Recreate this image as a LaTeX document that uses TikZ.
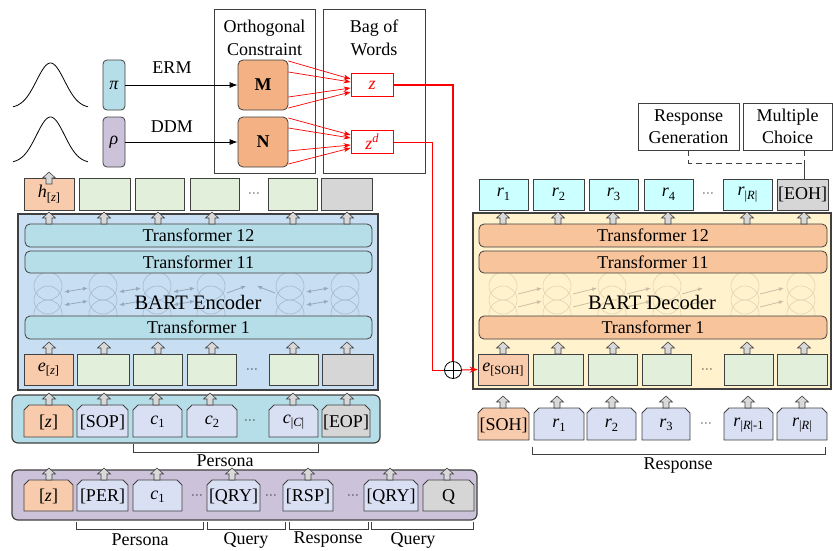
\documentclass[tikz,border=0pt]{standalone}
\usepackage{fontspec}
\setmainfont{Liberation Serif}
\usetikzlibrary{arrows.meta}
\definecolor{dgray}{RGB}{64,64,64}
\definecolor{encbg}{RGB}{200,222,242}
\definecolor{trblue}{RGB}{182,222,232}
\definecolor{tokgreen}{RGB}{226,239,218}
\definecolor{tokorange}{RGB}{248,203,173}
\definecolor{tokgray}{RGB}{214,214,214}
\definecolor{toklav}{RGB}{218,224,243}
\definecolor{purp}{RGB}{204,194,218}
\definecolor{decbg}{RGB}{255,242,204}
\definecolor{trorange}{RGB}{248,196,156}
\definecolor{rcyan}{RGB}{204,255,255}
\definecolor{morange}{RGB}{244,177,131}
\definecolor{agray}{RGB}{217,217,217}
\definecolor{enccirc}{RGB}{165,185,205}
\definecolor{encarrc}{RGB}{150,168,186}
\definecolor{deccirc}{RGB}{225,212,180}
\definecolor{decarrc}{RGB}{200,192,165}
\definecolor{linered}{RGB}{255,0,0}
\newcommand{\tsb}[1]{\raisebox{-3.5pt}{\fontsize{12.5}{12.5}\selectfont #1}}
\newcommand{\tsp}[1]{\raisebox{7pt}{\fontsize{12.5}{12.5}\selectfont #1}}
\newcommand{\sdots}{{\fontsize{13}{13}\selectfont\,$\cdot\!\cdot\!\cdot$\,}}
% box token: name, x1, y1, x2, y2, fill, text
\newcommand{\btok}[7]{\node[draw=dgray, fill=#6, line width=0.8pt, inner sep=0pt,
  minimum width={#4-#2}, minimum height={#5-#3}] (#1) at ({(#2+#4)/2},{(#3+#5)/2}) {#7};}
% chamfered token: name, x1, y1, x2, y2, fill, text
\newcommand{\chtok}[7]{\filldraw[fill=#6, draw=dgray, line width=0.8pt]
  (#2,#5) -- (#2,#3+5) -- (#2+5,#3) -- (#4-5,#3) -- (#4,#3+5) -- (#4,#5) -- cycle;
  \node[inner sep=0pt] (#1) at ({(#2+#4)/2},{(#3+#5)/2+1}) {#7};}
\tikzset{
  uparr/.pic={\filldraw[fill=agray, draw=dgray, line width=0.6pt]
    (-3,0) -- (-3,-6) -- (-6.5,-6) -- (0,-12) -- (6.5,-6) -- (3,-6) -- (3,0) -- cycle;},
  trbar/.style={draw=dgray, line width=0.8pt, rounded corners=5pt, inner sep=0pt, minimum width=347pt},
  panel/.style={draw=dgray, line width=1.2pt, rounded corners=6pt, inner sep=0pt},
  bigbox/.style={draw=dgray, line width=1.6pt, inner sep=0pt},
  plainbox/.style={draw=dgray, line width=0.8pt, inner sep=0pt},
  encarr/.style={encarrc, line width=0.8pt},
  decarr/.style={decarrc, line width=0.8pt},
  redline/.style={draw=red, line width=1pt},
  brk/.style={dgray, line width=0.8pt},
}
\begin{document}
\begin{tikzpicture}[x=1pt, y=-1pt, font=\fontsize{18}{21}\selectfont]
\useasboundingbox (0,0) rectangle (833,550);

% ---------------- top left: gaussians, pi, rho -----------------
\draw[line width=0.8pt] plot[domain=13:88, samples=70, smooth] (\x,{108-45*exp(-0.5*((\x-50.5)/14)^2)});
\draw[line width=0.8pt] plot[domain=13:88, samples=70, smooth] (\x,{163-46*exp(-0.5*((\x-50.5)/14)^2)});
\node[draw=dgray, fill=trblue, rounded corners=4pt, minimum width=22pt, minimum height=50pt, inner sep=0pt, line width=0.8pt] (pi) at (114,85) {\textit{π}};
\node[draw=dgray, fill=purp, rounded corners=4pt, minimum width=22pt, minimum height=50pt, inner sep=0pt, line width=0.8pt] (rho) at (114,142) {\textit{ρ}};

% Orthogonal constraint and bag of words
\node[plainbox, minimum width=101pt, minimum height=164pt] (ortho) at (264.5,91) {};
\node[align=center, font=\fontsize{18}{23}\selectfont] (orthot) at (264.5,37.5) {Orthogonal\\Constraint};
\node[plainbox, minimum width=102pt, minimum height=164pt] (bow) at (374,91) {};
\node[align=center, font=\fontsize{18}{23}\selectfont] (bowt) at (374,37.5) {Bag of\\Words};

\node[draw=dgray, fill=morange, rounded corners=5pt, minimum size=50pt, inner sep=0pt, line width=0.8pt, font=\fontsize{18}{21}\selectfont\bfseries] (M) at (263,85) {M};
\node[draw=dgray, fill=morange, rounded corners=5pt, minimum size=50pt, inner sep=0pt, line width=0.8pt, font=\fontsize{18}{21}\selectfont\bfseries] (N) at (263,142) {N};

\node (erm) at (172,68) {ERM};
\node (ddm) at (172,127) {DDM};
\draw[line width=0.8pt, -{Latex[length=8pt,width=6pt]}] (pi) -- (M);
\draw[line width=0.8pt, -{Latex[length=8pt,width=6pt]}] (rho) -- (N);

\node[draw=linered, text=linered, minimum width=42pt, minimum height=23pt, inner sep=0pt, line width=0.8pt] (z) at (372,85) {\textit{z}};
\node[draw=linered, text=linered, minimum width=42pt, minimum height=23pt, inner sep=0pt, line width=0.8pt] (zd) at (372,142) {\textit{z}\tsp{\textit{d}}};

% red connections to decoder (drawn early)
\coordinate (opc) at (453,370);
\coordinate (zturn) at (453,85);
\draw[draw=red, line width=1.1pt] (z.east) -- (zturn) -- ([yshift=8.5pt]opc);
\draw[redline] (zd.east) -- ++(39,0) |- ([xshift=-8.5pt]opc);

\foreach \a/\b in {24/6, 13/3, -12/-3, -23/-7}
  \draw[redline, line width=0.7pt, -{Stealth[length=7pt,width=5pt]}] ([yshift=\a pt]M.east) -- ([yshift=\b pt]z.west);
\foreach \a/\b in {24/7, 14/4, -9/-3, -22/-6}
  \draw[redline, line width=0.7pt, -{Stealth[length=7pt,width=5pt]}] ([yshift=\a pt]N.east) -- ([yshift=\b pt]zd.west);

% ---------------- encoder -----------------
\node[bigbox, fill=encbg, minimum width=360pt, minimum height=176pt] (enc) at (198,302) {};
\begin{scope}
  \clip (25,273) rectangle (372,316);
  \foreach \cx in {48,103,157,211,290,345}
    \foreach \cy in {286,300,314}
      \draw[enccirc, line width=0.6pt] (\cx,\cy) circle[radius=14];
\end{scope}
\foreach \a/\b in {64/88, 119/141, 173/195, 306/329} {
  \draw[encarr, {Latex[length=5pt,width=4pt]}-{Latex[length=5pt,width=4pt]}] (\a,292) -- (\b,288);
  \draw[encarr, {Latex[length=5pt,width=4pt]}-{Latex[length=5pt,width=4pt]}] (\a,305) -- (\b,301);
}
\draw[encarr, -{Latex[length=5pt,width=4pt]}] (227,293) -- (246,286);
\draw[encarr, -{Latex[length=5pt,width=4pt]}] (275,293) -- (257,286);
\node[font=\fontsize{20.5}{24}\selectfont] (enclab) at (198,302) {BART Encoder};
\node[trbar, fill=trblue, minimum height=23pt] (et12) at (198.5,235.5) {Transformer 12};
\node[trbar, fill=trblue, minimum height=22pt] (et11) at (198.5,262) {Transformer 11};
\node[trbar, fill=trblue, minimum height=23pt] (et1) at (198.5,327.5) {Transformer 1};

\btok{ez}{24}{354}{73}{385}{tokorange}{\textit{e}\tsb{[\textit{z}]}}
\btok{e2}{77}{354}{129}{385}{tokgreen}{}
\btok{e3}{133}{354}{182}{385}{tokgreen}{}
\btok{e4}{187}{354}{236}{385}{tokgreen}{}
\node (ed) at (252,370) {\sdots};
\btok{e5}{269}{354}{318}{385}{tokgreen}{}
\btok{e6}{322}{354}{373}{385}{tokgray}{}
\foreach \x in {49,104,158,212,293,347} {\pic at (\x,224) {uparr}; \pic at (\x,354) {uparr};}

% h row
\btok{hz}{24}{178}{74}{210}{tokorange}{\textit{h}\tsb{[\textit{z}]}}
\btok{h2}{79}{178}{130}{210}{tokgreen}{}
\btok{h3}{135}{178}{184}{210}{tokgreen}{}
\btok{h4}{190}{178}{239}{210}{tokgreen}{}
\node (hd) at (254,194) {\sdots};
\btok{h5}{268}{178}{317}{210}{tokgreen}{}
\btok{h6}{321}{178}{372}{210}{tokgray}{}
\pic at (49,184) {uparr};

% persona panel
\node[panel, fill=trblue, minimum width=368pt, minimum height=48pt] (perpanel) at (196,419) {};
\chtok{pz}{24}{405}{73}{437}{tokorange}{[\textit{z}]}
\chtok{psop}{77}{405}{128}{437}{toklav}{[SOP]}
\chtok{pc1}{133}{405}{182}{437}{toklav}{\textit{c}\tsb{1}}
\chtok{pc2}{187}{405}{237}{437}{toklav}{\textit{c}\tsb{2}}
\node (pd) at (250,421) {\sdots};
\chtok{pcc}{269}{405}{318}{437}{toklav}{\textit{c}\tsb{|\textit{C}|}}
\chtok{peop}{322}{405}{370}{437}{tokgray}{[EOP]}
\foreach \x in {49,104,156,210,293,347} \pic at (\x,405) {uparr};
\draw[brk] (133,444) |- (318,452) -- (318,444);
\node (perlab) at (225,461) {Persona};

% dialogue panel
\node[panel, fill=purp, minimum width=465pt, minimum height=50pt] (dlg) at (244.5,495) {};
\chtok{qz}{24}{480}{73}{511}{tokorange}{[\textit{z}]}
\chtok{qper}{77}{480}{128}{511}{toklav}{[PER]}
\chtok{qc1}{133}{480}{182}{511}{toklav}{\textit{c}\tsb{1}}
\node (qd1) at (197,496) {\sdots};
\chtok{qqry}{207}{480}{260}{511}{toklav}{[QRY]}
\node (qd2) at (271,496) {\sdots};
\chtok{qrsp}{283}{480}{333}{511}{toklav}{[RSP]}
\node (qd3) at (353,496) {\sdots};
\chtok{qqry2}{364}{480}{418}{511}{toklav}{[QRY]}
\chtok{qq}{423}{480}{474}{511}{tokgray}{Q}
\foreach \x in {49,104,157,232,308,390,447} \pic at (\x,480) {uparr};
\draw[brk] (76,522) |- (203,529) -- (203,522);
\draw[brk] (207,522) |- (285,529) -- (285,522);
\draw[brk] (289,522) |- (368,529) -- (368,522);
\draw[brk] (371,522) |- (473,529) -- (473,522);
\node (l1) at (140,540) {Persona};
\node (l2) at (246,540) {Query};
\node (l3) at (328,540) {Response};
\node (l4) at (413,540) {Query};

% ---------------- decoder -----------------
\node[bigbox, fill=decbg, minimum width=358pt, minimum height=176pt] (dec) at (652,301) {};
\begin{scope}
  \clip (479,273) rectangle (827,316);
  \foreach \cx in {503,557,612,667,745,801}
    \foreach \cy in {286,300,314}
      \draw[deccirc, line width=0.6pt] (\cx,\cy) circle[radius=14];
\end{scope}
\foreach \a/\b in {518/542, 573/597, 627/651, 682/703, 760/784} {
  \draw[decarr, -{Latex[length=5pt,width=4pt]}] (\a,294) -- (\b,288);
  \draw[decarr, -{Latex[length=5pt,width=4pt]}] (\a,307) -- (\b,301);
}
\node[font=\fontsize{20.5}{24}\selectfont] (declab) at (652,302) {BART Decoder};
\node[trbar, fill=trorange, minimum width=348pt, minimum height=23pt] (dt12) at (653,235.5) {Transformer 12};
\node[trbar, fill=trorange, minimum width=348pt, minimum height=22pt] (dt11) at (653,262) {Transformer 11};
\node[trbar, fill=trorange, minimum width=348pt, minimum height=23pt] (dt1) at (653,327.5) {Transformer 1};

\btok{or1}{479}{179}{528}{210}{rcyan}{\textit{r}\tsb{1}}
\btok{or2}{533}{179}{584}{210}{rcyan}{\textit{r}\tsb{2}}
\btok{or3}{589}{179}{638}{210}{rcyan}{\textit{r}\tsb{3}}
\btok{or4}{644}{179}{693}{210}{rcyan}{\textit{r}\tsb{4}}
\node (od) at (708,194) {\sdots};
\btok{orr}{723}{179}{772}{210}{rcyan}{\textit{r}\tsb{|\textit{R}|}}
\btok{oeoh}{777}{179}{828}{210}{tokgray}{[EOH]}

\btok{esoh}{478}{354}{528}{385}{tokorange}{\textit{e}\tsb{[SOH]}}
\btok{de2}{533}{354}{583}{385}{tokgreen}{}
\btok{de3}{588}{354}{637}{385}{tokgreen}{}
\btok{de4}{642}{354}{691}{385}{tokgreen}{}
\node (dd) at (707,370) {\sdots};
\btok{de5}{724}{354}{773}{385}{tokgreen}{}
\btok{de6}{777}{354}{827}{385}{tokgreen}{}
\foreach \x in {503,558,613,668,747,804} {\pic at (\x,224) {uparr}; \pic at (\x,354) {uparr};}

\chtok{isoh}{478}{408}{529}{440}{tokorange}{[SOH]}
\chtok{ir1}{534}{408}{584}{440}{toklav}{\textit{r}\tsb{1}}
\chtok{ir2}{587}{408}{636}{440}{toklav}{\textit{r}\tsb{2}}
\chtok{ir3}{642}{408}{690}{440}{toklav}{\textit{r}\tsb{3}}
\node (id) at (706,424) {\sdots};
\chtok{irm}{724}{408}{773}{440}{toklav}{\textit{r}\tsb{|\textit{R}|-1}}
\chtok{irr}{777}{408}{827}{440}{toklav}{\textit{r}\tsb{|\textit{R}|}}
\foreach \x in {503,557,612,666,748,802} \pic at (\x,408) {uparr};
\draw[brk] (532,447) |- (825,454) -- (825,447);
\node (resplab) at (678,466) {Response};

% task boxes
\node[plainbox, minimum width=101pt, minimum height=47pt, align=center, font=\fontsize{18}{22}\selectfont] (rg) at (688.5,126.5) {Response\\Generation};
\node[plainbox, minimum width=89pt, minimum height=47pt, align=center, font=\fontsize{18}{22}\selectfont] (mc) at (787.5,126.5) {Multiple\\Choice};
\coordinate (jn) at (804,163);
\draw[dgray, line width=0.8pt, dash pattern=on 6pt off 4pt] (rg.south) |- (jn);
\draw[dgray, line width=0.8pt, dash pattern=on 6pt off 4pt] (jn |- mc.south) -- (jn);
\draw[dgray, line width=0.8pt] (jn) -- (jn |- oeoh.north);

% circle-plus
\node[circle, draw=black, line width=0.8pt, minimum size=17pt, inner sep=0pt] (oplus) at (opc) {};
\draw[black, line width=0.8pt] (oplus.north) -- (oplus.south) (oplus.west) -- (oplus.east);
\draw[redline, -{Stealth[length=8pt,width=6pt]}] (oplus.east) -- (esoh.west);
\end{tikzpicture}
\end{document}
